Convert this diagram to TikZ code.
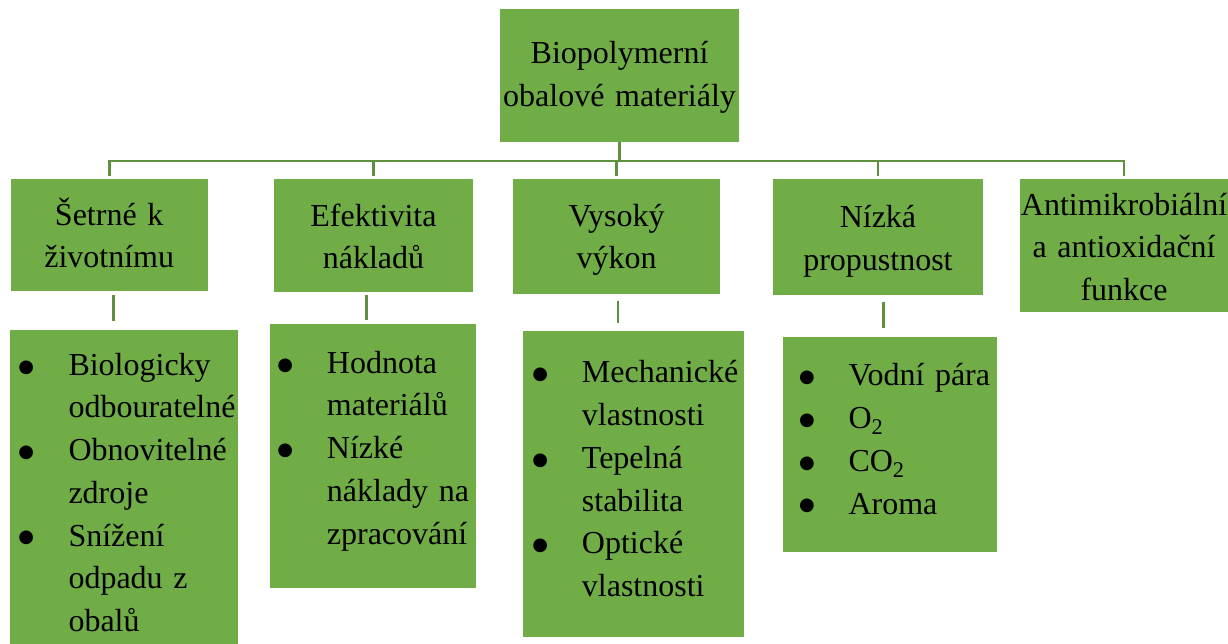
\documentclass[tikz,border=0pt]{standalone}
\usepackage{fontspec}
\setmainfont{Liberation Serif}
\newfontfamily\dejavu{DejaVu Sans}
\definecolor{boxgreen}{HTML}{70AD47}
\definecolor{linegreen}{HTML}{5E9040}
\newcommand{\bigbul}{\makebox[0pt]{\raisebox{3.2pt}{\dejavu\fontsize{18}{18}\selectfont ●}}}
\newcommand{\bul}[2]{\makebox[#2pt][l]{\hspace*{#1pt}\bigbul}}
\newcommand{\ind}[1]{\hspace*{#1pt}}
\begin{document}
\begin{tikzpicture}[x=1pt,y=-1pt,
  box/.style={fill=boxgreen, draw=none, inner sep=0pt, anchor=north west,
    font=\fontsize{32}{42.7}\selectfont},
  headbox/.style={box, align=center},
  listbox/.style={box, align=left},
  conn/.style={draw=linegreen, line width=2.6pt}]
\useasboundingbox (0,0) rectangle (1228,644);

% top node
\node[headbox, text width=238.7pt, text height=54pt, text depth=78.4pt] (top) at (500,9.3)
  {Biopolymerní\\obalové materiály};

% second level
\node[headbox, text width=196.6pt, text height=45.7pt, text depth=65.7pt] (b1) at (10.7,179.3)
  {Šetrné k\\životnímu};
\node[headbox, text width=198.5pt, text height=47pt, text depth=66pt] (b2) at (274,179)
  {Efektivita\\nákladů};
\node[headbox, text width=207.2pt, text height=47pt, text depth=68pt] (b3) at (512.8,179)
  {Vysoký\\výkon};
\node[headbox, text width=209.5pt, text height=48.3pt, text depth=67.7pt] (b4) at (773,179)
  {Nízká\\propustnost};
\node[headbox, text width=208.3pt, text height=36pt, text depth=97pt] (b5) at (1019.7,179)
  {Antimikrobiální\\a antioxidační\\funkce};

% lists
\node[listbox, text width=227.7pt, text height=45.7pt, text depth=269pt] (l1) at (10,329.3)
  {\bul{16}{58.3}Biologicky\\\ind{58.3}odbouratelné\\\bul{16}{58.3}Obnovitelné\\\ind{58.3}zdroje\\\bul{16}{58.3}Snížení\\\ind{58.3}odpadu z\\\ind{58.3}obalů};
\node[listbox, text width=206pt, text height=49.7pt, text depth=215pt] (l2) at (270,323.3)
  {\bul{15}{56.7}Hodnota\\\ind{56.7}materiálů\\\bul{15}{56.7}Nízké\\\ind{56.7}\makebox[146.3pt][s]{náklady na}\\\ind{56.7}zpracování};
\node[listbox, text width=221.7pt, text height=51.7pt, text depth=254pt] (l3) at (522.3,331)
  {\bul{17.7}{59.4}Mechanické\\\ind{59.4}vlastnosti\\\bul{17.7}{59.4}Tepelná\\\ind{59.4}stabilita\\\bul{17.7}{59.4}Optické\\\ind{59.4}vlastnosti};
\node[listbox, text width=214.4pt, text height=49pt, text depth=166pt] (l4) at (782.3,336.7)
  {\bul{24.4}{66}Vodní pára\\\bul{24.4}{66}O\textsubscript{2}\\\bul{24.4}{66}CO\textsubscript{2}\\\bul{24.4}{66}Aroma};

% connectors upper level
\coordinate (bus) at (618.3,161);
\draw[conn] (top.south) -- (top.south |- bus);
\draw[conn] ([yshift=3pt]b1.north) |- (b5.north |- bus) -- ([yshift=3pt]b5.north);
\draw[conn] (b2.north |- bus) -- ([yshift=3pt]b2.north);
\draw[conn] (b3.north |- bus) -- ([yshift=3pt]b3.north);
\draw[conn] (b4.north |- bus) -- ([yshift=3pt]b4.north);

% short segments between levels
\coordinate (s1a) at (113.3,295);   \coordinate (s1b) at (113.3,320.7);
\coordinate (s2a) at (366.7,295);   \coordinate (s2b) at (366.7,320);
\coordinate (s3a) at (618,300.7);   \coordinate (s3b) at (618,323);
\coordinate (s4a) at (883.3,302);   \coordinate (s4b) at (883.3,328.3);
\draw[conn] (s1a) -- (s1b);
\draw[conn] (s2a) -- (s2b);
\draw[conn] (s3a) -- (s3b);
\draw[conn] (s4a) -- (s4b);
\end{tikzpicture}
\end{document}
